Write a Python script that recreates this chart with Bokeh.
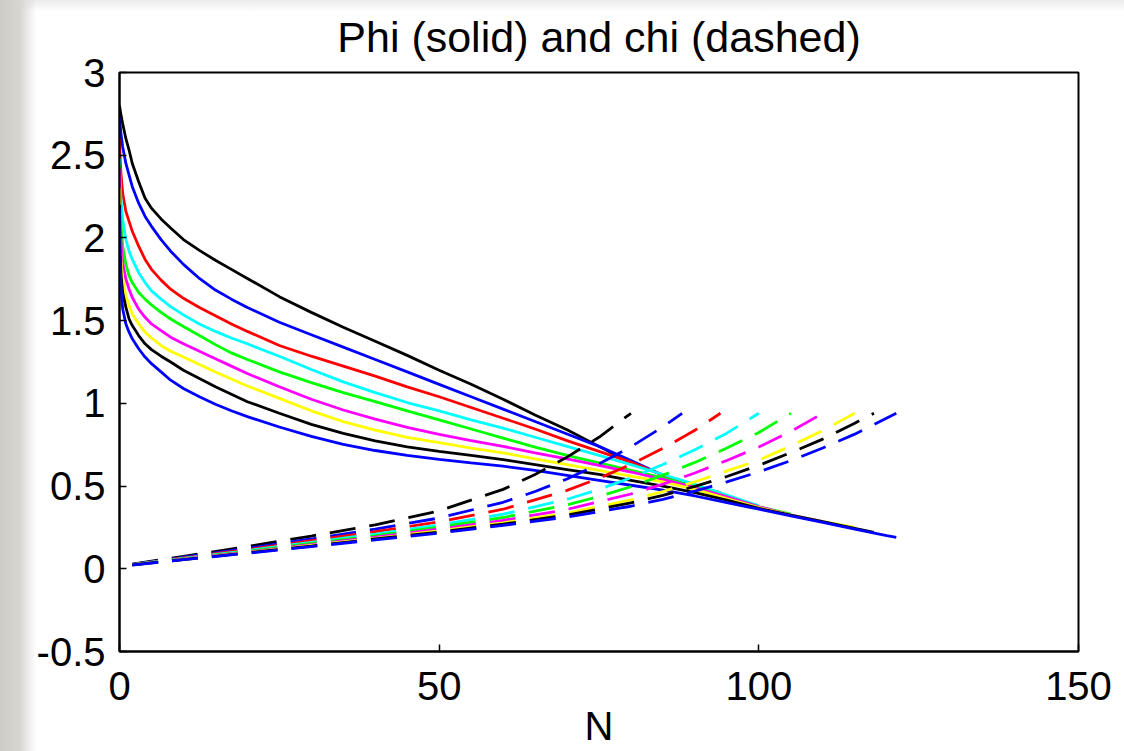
from bokeh.plotting import figure
from bokeh.embed import file_html
from bokeh.resources import INLINE
from bokeh.models import FixedTicker, Range1d

title_text = "Phi (solid) and chi (dashed)"
x_label = "N"
xticks = [0, 50, 100, 150]
xtick_labels = ["0", "50", "100", "150"]
yticks = [-0.5, 0, 0.5, 1, 1.5, 2, 2.5, 3]
ytick_labels = ["-0.5", "0", "0.5", "1", "1.5", "2", "2.5", "3"]

colors = ["#000000", "#0000ff", "#ff0000", "#00ffff", "#00ff00",
          "#ff00ff", "#ffff00", "#000000", "#0000ff"]

# common N samples for the phi curves (each curve ends at its own last N)
n_grid = [0, 0.1, 0.25, 0.5, 1, 1.5, 2, 3, 4, 5, 6.5, 8, 10, 12.5, 15, 17.5, 20, 25, 30, 35,
          40, 45, 50, 55, 60, 65, 70, 75, 80, 85, 90, 95, 100, 105, 110, 115, 120]

# ---- phi (solid) ----
phi1_n = [0, 0.2, 0.5, 1, 1.5, 2, 3, 4, 5, 6.5, 8, 10, 12.5, 15, 17.5, 20, 25, 30, 35, 40, 45, 50, 55, 60, 65, 70, 75, 80]
phi1 = [2.80, 2.75, 2.69, 2.60, 2.53, 2.45, 2.34, 2.24, 2.18, 2.115, 2.06, 1.99, 1.925, 1.865, 1.81, 1.755, 1.645, 1.55, 1.46, 1.375, 1.29, 1.20, 1.115, 1.025, 0.93, 0.84, 0.74, 0.64]
phi2_n = [0, 0.2, 0.5, 1, 1.5, 2, 3, 4, 5, 6.5, 8, 10, 12.5, 15, 17.5, 20, 25, 30, 35, 40, 45, 50, 55, 60, 65, 70, 75, 80, 85, 88]
phi2 = [2.73, 2.64, 2.55, 2.45, 2.38, 2.31, 2.21, 2.13, 2.07, 1.99, 1.92, 1.84, 1.755, 1.685, 1.63, 1.58, 1.49, 1.415, 1.34, 1.265, 1.19, 1.115, 1.04, 0.965, 0.89, 0.815, 0.74, 0.655, 0.565, 0.52]
phi3_n = [0, 0.1, 0.25, 0.5, 1, 1.5, 2, 3, 4, 5, 6.5, 8, 10, 12.5, 15, 17.5, 20, 25, 30, 35, 40, 45, 50, 55, 60, 65, 70, 75, 80, 85, 90, 94]
phi3 = [2.60, 2.48, 2.38, 2.27, 2.16, 2.10, 2.04, 1.95, 1.87, 1.81, 1.745, 1.69, 1.635, 1.58, 1.53, 1.48, 1.435, 1.35, 1.285, 1.225, 1.165, 1.10, 1.04, 0.975, 0.91, 0.845, 0.775, 0.71, 0.645, 0.565, 0.50, 0.46]
phi4_n = n_grid[:33]
phi4 = [2.48, 2.34, 2.22, 2.11, 1.99, 1.92, 1.87, 1.79, 1.73, 1.68, 1.63, 1.585, 1.535, 1.48, 1.435, 1.395, 1.36, 1.285, 1.205, 1.13, 1.065, 1.005, 0.955, 0.90, 0.85, 0.795, 0.74, 0.685, 0.63, 0.57, 0.51, 0.445, 0.38]
phi5_n = n_grid[:34]
phi5 = [2.44, 2.22, 2.07, 1.95, 1.84, 1.77, 1.73, 1.67, 1.63, 1.595, 1.55, 1.51, 1.465, 1.41, 1.355, 1.305, 1.265, 1.19, 1.125, 1.065, 1.01, 0.955, 0.90, 0.845, 0.79, 0.735, 0.685, 0.64, 0.595, 0.55, 0.495, 0.435, 0.375, 0.33]
phi6_n = n_grid[:35]
phi6 = [2.42, 2.12, 1.96, 1.85, 1.75, 1.69, 1.64, 1.57, 1.52, 1.48, 1.44, 1.40, 1.36, 1.315, 1.27, 1.225, 1.18, 1.10, 1.025, 0.96, 0.905, 0.855, 0.812, 0.775, 0.74, 0.70, 0.665, 0.625, 0.585, 0.54, 0.49, 0.435, 0.375, 0.325, 0.285]
phi7_n = n_grid[:36]
phi7 = [2.30, 2.00, 1.85, 1.75, 1.65, 1.59, 1.54, 1.48, 1.43, 1.395, 1.35, 1.315, 1.28, 1.235, 1.19, 1.147, 1.105, 1.03, 0.955, 0.89, 0.838, 0.795, 0.762, 0.73, 0.70, 0.665, 0.63, 0.595, 0.56, 0.525, 0.48, 0.425, 0.37, 0.325, 0.285, 0.25]
phi8_n = n_grid[:36] + [118]
phi8 = [2.20, 1.92, 1.77, 1.67, 1.58, 1.51, 1.47, 1.41, 1.36, 1.325, 1.285, 1.25, 1.20, 1.15, 1.10, 1.055, 1.01, 0.94, 0.873, 0.818, 0.773, 0.737, 0.71, 0.685, 0.66, 0.63, 0.60, 0.57, 0.535, 0.50, 0.46, 0.415, 0.365, 0.325, 0.285, 0.245, 0.22]
phi9_n = n_grid + [121.5]
phi9 = [2.18, 1.85, 1.68, 1.57, 1.48, 1.43, 1.39, 1.33, 1.28, 1.24, 1.19, 1.14, 1.09, 1.04, 0.995, 0.955, 0.92, 0.857, 0.80, 0.752, 0.715, 0.686, 0.661, 0.64, 0.62, 0.595, 0.565, 0.535, 0.505, 0.475, 0.44, 0.40, 0.36, 0.32, 0.28, 0.24, 0.20, 0.19]

# ---- chi (dashed) ----
chi1_n = [2, 10, 20, 30, 40, 50, 60, 65, 70, 75, 80]
chi1 = [0.028, 0.075, 0.135, 0.198, 0.265, 0.35, 0.48, 0.57, 0.675, 0.795, 0.94]
chi2_n = [2, 10, 20, 30, 40, 50, 60, 65, 70, 75, 80, 85, 88]
chi2 = [0.026, 0.070, 0.124, 0.180, 0.240, 0.307, 0.402, 0.467, 0.543, 0.634, 0.738, 0.858, 0.94]
chi3_n = [2, 10, 20, 30, 40, 50, 60, 70, 75, 80, 85, 90, 94]
chi3 = [0.025, 0.066, 0.116, 0.170, 0.224, 0.284, 0.360, 0.474, 0.547, 0.632, 0.728, 0.837, 0.94]
chi4_n = [2, 10, 20, 30, 40, 50, 60, 70, 75, 80, 85, 90, 95, 100]
chi4 = [0.025, 0.063, 0.11, 0.16, 0.21, 0.265, 0.33, 0.42, 0.48, 0.55, 0.63, 0.72, 0.82, 0.94]
chi5_n = [2, 10, 20, 30, 40, 50, 60, 70, 75, 80, 85, 90, 95, 100, 105]
chi5 = [0.024, 0.061, 0.105, 0.153, 0.200, 0.252, 0.310, 0.387, 0.437, 0.496, 0.566, 0.643, 0.730, 0.824, 0.94]
chi6_n = [2, 10, 20, 30, 40, 50, 60, 70, 80, 85, 90, 95, 100, 105, 110]
chi6 = [0.024, 0.059, 0.101, 0.146, 0.192, 0.240, 0.292, 0.359, 0.452, 0.512, 0.579, 0.655, 0.736, 0.830, 0.94]
chi7_n = [2, 10, 20, 30, 40, 50, 60, 70, 80, 85, 90, 95, 100, 105, 110, 115]
chi7 = [0.023, 0.057, 0.098, 0.141, 0.184, 0.229, 0.278, 0.337, 0.416, 0.467, 0.526, 0.592, 0.656, 0.743, 0.836, 0.94]
chi8_n = [2, 10, 20, 30, 40, 50, 60, 70, 80, 85, 90, 95, 100, 105, 110, 115, 118]
chi8 = [0.023, 0.056, 0.096, 0.137, 0.180, 0.222, 0.270, 0.325, 0.398, 0.444, 0.498, 0.558, 0.625, 0.702, 0.784, 0.880, 0.94]
chi9_n = [2, 10, 20, 30, 40, 50, 60, 70, 80, 85, 90, 95, 100, 105, 110, 115, 121.5]
chi9 = [0.022, 0.055, 0.094, 0.134, 0.175, 0.216, 0.262, 0.313, 0.378, 0.42, 0.469, 0.525, 0.586, 0.654, 0.730, 0.814, 0.94]

phi_series = [(phi1_n, phi1), (phi2_n, phi2), (phi3_n, phi3), (phi4_n, phi4), (phi5_n, phi5),
              (phi6_n, phi6), (phi7_n, phi7), (phi8_n, phi8), (phi9_n, phi9)]
chi_series = [(chi1_n, chi1), (chi2_n, chi2), (chi3_n, chi3), (chi4_n, chi4), (chi5_n, chi5),
              (chi6_n, chi6), (chi7_n, chi7), (chi8_n, chi8), (chi9_n, chi9)]

FONT = "Liberation Sans"

p = figure(width=1124, height=751, output_backend="svg", toolbar_location=None,
           x_range=Range1d(0, 150), y_range=Range1d(-0.5, 3),
           min_border_left=119, min_border_right=46, min_border_top=72, min_border_bottom=100,
           title=title_text)

p.styles = {"background-image": "linear-gradient(to right, rgba(206,204,199,1) 0px, rgba(216,214,209,1) 20px, rgba(255,255,255,0) 36px), linear-gradient(to bottom, #ebebeb 0px, #ffffff 12px)"}
p.border_fill_color = None
p.background_fill_color = "white"

for (xs, ys), c in zip(phi_series, colors):
    p.line(xs, ys, line_color=c, line_width=2.8)
for (xs, ys), c in zip(chi_series, colors):
    p.line(xs, ys, line_color=c, line_width=2.8, line_dash="26 14")

p.title.text_font = FONT
p.title.text_font_size = "43px"
p.title.text_font_style = "normal"
p.title.align = "center"
p.title.text_color = "black"
p.title.standoff = 20
p.title.vertical_align = "top"
p.title.text_line_height = 0.8

p.grid.visible = False
p.outline_line_color = "black"
p.outline_line_width = 2

p.xaxis.ticker = FixedTicker(ticks=xticks)
p.xaxis.major_label_overrides = {t: l for t, l in zip(xticks, xtick_labels)}
p.yaxis.ticker = FixedTicker(ticks=yticks)
p.yaxis.major_label_overrides = {t: l for t, l in zip(yticks, ytick_labels)}
p.xaxis.axis_label = x_label

for ax in (p.xaxis[0], p.yaxis[0]):
    ax.major_tick_in = 7
    ax.major_tick_out = 0
    ax.minor_tick_line_color = None
    ax.axis_line_width = 2
    ax.axis_line_color = "black"
    ax.major_tick_line_color = "black"
    ax.major_tick_line_width = 1.5
    ax.major_label_text_font = FONT
    ax.major_label_text_font_size = "40px"
    ax.major_label_text_color = "black"
    ax.major_label_text_line_height = 0.9
    ax.axis_label_text_font = FONT
    ax.axis_label_text_font_size = "40px"
    ax.axis_label_text_font_style = "normal"
    ax.axis_label_text_color = "black"
    ax.axis_label_text_line_height = 0.9

p.xaxis.major_label_standoff = 20
p.xaxis.axis_label_standoff = 1
p.yaxis.major_label_standoff = 14

open("out.html", "w").write(file_html(p, INLINE))
